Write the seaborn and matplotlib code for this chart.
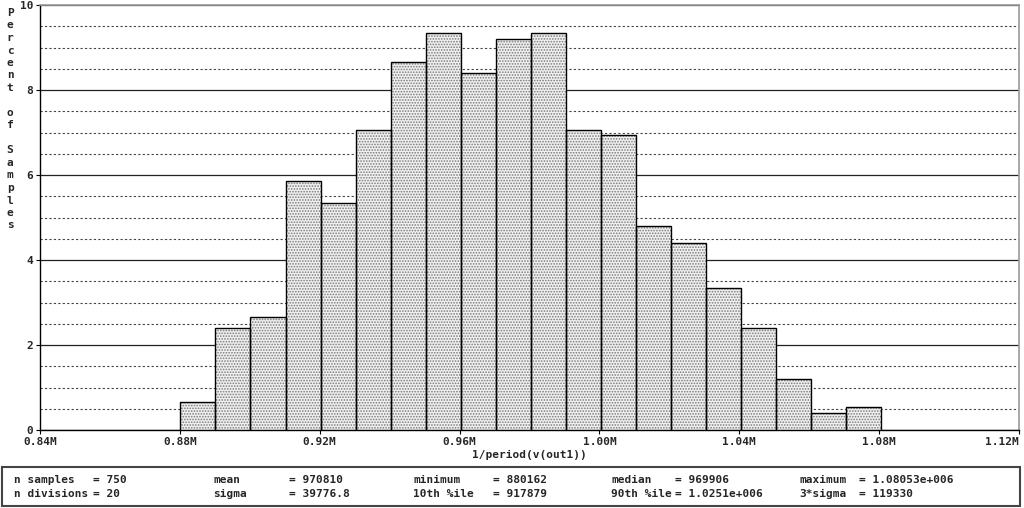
import numpy as np
import pandas as pd
import matplotlib
matplotlib.use("Agg")
import matplotlib.pyplot as plt
import seaborn as sns
from matplotlib.ticker import FixedLocator, MultipleLocator, FuncFormatter
from matplotlib.patches import Rectangle

# ---- data ----
x_min = 880162.0
x_max = 1080530.0
n_divisions = 20
percent = [0.667, 2.4, 2.667, 5.867, 5.333, 7.067, 8.667, 9.333, 8.4, 9.2,
           9.333, 7.067, 6.933, 4.8, 4.4, 3.333, 2.4, 1.2, 0.4, 0.533]
x_ticks = [840000, 880000, 920000, 960000, 1000000, 1040000, 1080000, 1120000]
y_ticks = [0, 2, 4, 6, 8, 10]
stats_row1 = [("n samples", "= 750"), ("mean", "= 970810"), ("minimum", "= 880162"),
              ("median", "= 969906"), ("maximum", "= 1.08053e+006")]
stats_row2 = [("n divisions", "= 20"), ("sigma", "= 39776.8"), ("10th %ile", "= 917879"),
              ("90th %ile", "= 1.0251e+006"), ("3*sigma", "= 119330")]
x_label = "1/period(v(out1))"
y_label = "Percent of Samples"

edges = np.linspace(x_min, x_max, n_divisions + 1)
centers = (edges[:-1] + edges[1:]) / 2
df = pd.DataFrame({"x": centers, "pct": percent})

sns.set_theme(style="white")
plt.rcParams["font.family"] = ["DejaVu Sans Mono"]
plt.rcParams["font.weight"] = "bold"
plt.rcParams["hatch.linewidth"] = 0.8

FS = 8.0
W, H = 1024, 508
fig = plt.figure(figsize=(W / 100, H / 100), dpi=100)
ax = fig.add_axes([40 / W, 1 - 430 / H, (1019 - 40) / W, (430 - 5) / H])

# dotted fill layer
sns.histplot(data=df, x="x", weights="pct", bins=n_divisions, binrange=(x_min, x_max), ax=ax,
             color="white", linewidth=0, alpha=1.0, zorder=3)
for p in ax.patches:
    p.set_hatch("......")
    p.set_facecolor("#f0f0f0")
    p.set_edgecolor("#7a7a7a")
    p.set_linewidth(0)
    p.set_zorder(3)
n_fill = len(ax.patches)
# outline layer
sns.histplot(data=df, x="x", weights="pct", bins=n_divisions, binrange=(x_min, x_max), ax=ax,
             fill=False, element="bars", color="black", linewidth=1.0, zorder=4)
for p in ax.patches[n_fill:]:
    p.set_edgecolor("black")
    p.set_zorder(4)

ax.set_xlim(840000, 1120000)
ax.set_ylim(0, 10)
ax.xaxis.set_major_locator(FixedLocator(x_ticks))
ax.xaxis.set_major_formatter(FuncFormatter(lambda v, pos: f"{v/1e6:.2f}M"))
ax.yaxis.set_major_locator(FixedLocator(y_ticks))
ax.yaxis.set_minor_locator(MultipleLocator(0.5))

ax.grid(False)
ax.grid(which="major", axis="y", color="#222222", linewidth=0.9, linestyle="-", zorder=1)
ax.grid(which="minor", axis="y", color="#444444", linewidth=0.8, linestyle=(0, (2, 2)), zorder=1)
ax.set_axisbelow(True)

for s in ["left", "bottom"]:
    ax.spines[s].set_color("black")
    ax.spines[s].set_linewidth(1.0)
for s in ["top", "right"]:
    ax.spines[s].set_color("#999999")
    ax.spines[s].set_linewidth(1.2)

ax.tick_params(axis="both", which="major", direction="out", length=3, width=0.8,
               color="black", labelsize=FS, pad=2, bottom=True, left=True)
ax.tick_params(axis="y", which="minor", length=0)
fig.canvas.draw()
xt = ax.get_xticklabels()
for lbl in xt + ax.get_yticklabels():
    lbl.set_fontweight("bold")
xt[-1].set_horizontalalignment("right")

ax.set_xlabel(x_label, fontsize=FS, fontweight="bold", labelpad=2)
ax.set_ylabel("")

# vertical stacked y label, one character per row
for i, ch in enumerate(y_label):
    if ch.strip():
        fig.text(10 / W, 1 - (13 + i * 12.5) / H, ch, ha="center", va="center",
                 fontsize=FS, fontweight="bold")

# stats box
fig.patches.append(Rectangle((2 / W, 1 - 506 / H), (1020 - 2) / W, (506 - 467) / H,
                             transform=fig.transFigure, fill=False,
                             edgecolor="#444444", linewidth=1.5))
label_x = [14, 213, 413, 611, 799]
value_x = [93, 289, 493, 675, 859]
for row, yy in ((stats_row1, 480), (stats_row2, 494)):
    for (name, val), lx, vx in zip(row, label_x, value_x):
        fig.text(lx / W, 1 - yy / H, name, ha="left", va="center",
                 fontsize=FS, fontweight="bold")
        fig.text(vx / W, 1 - yy / H, val, ha="left", va="center",
                 fontsize=FS, fontweight="bold")

fig.savefig("out.png", dpi=100)
